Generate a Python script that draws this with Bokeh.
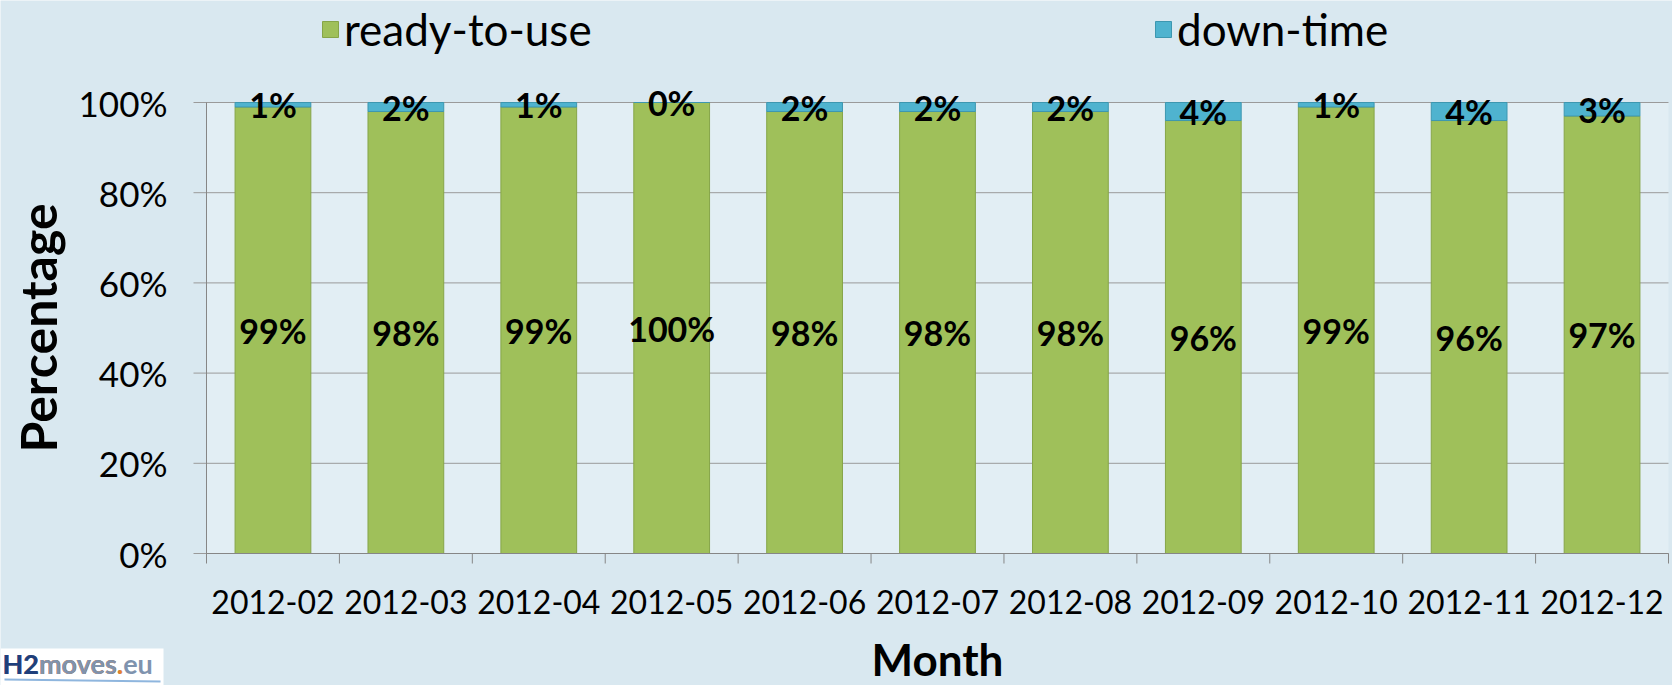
import math
from bokeh.plotting import figure
from bokeh.models import (ColumnDataSource, Range1d, Legend, LegendItem, BoxAnnotation)
from bokeh.core.properties import value
from bokeh.embed import file_html
from bokeh.resources import INLINE

# ---------------- data ----------------
months = ["2012-02", "2012-03", "2012-04", "2012-05", "2012-06", "2012-07",
          "2012-08", "2012-09", "2012-10", "2012-11", "2012-12"]
ready = [99, 98, 99, 100, 98, 98, 98, 96, 99, 96, 97]
down = [1, 2, 1, 0, 2, 2, 2, 4, 1, 4, 3]
y_ticks = [0, 20, 40, 60, 80, 100]
y_tick_labels = ["0%", "20%", "40%", "60%", "80%", "100%"]
series_names = ["ready-to-use", "down-time"]
x_title = "Month"
y_title = "Percentage"
logo_text = "H2moves.eu"

# ---------------- style / layout ----------------
GREEN = "#9fc05a"
GREEN_EDGE = "#86a548"
BLUE = "#4fb3cf"
BLUE_EDGE = "#3d97b0"
BG = "#d9e8f0"
PLOT_BG = "#e2eef4"
AXIS = "#868686"
GRID = "#9a9a9a"
FONT = "Lato"

W, H = 1672, 685
FL, FR, FT, FB = 206, 1668, 102, 553      # plot-area edges in pixels
n = len(months)
sx = (FR - FL) / n                        # pixels per category
sy = (FB - FT) / 100.0                    # pixels per percent

def dx(px):
    return px / sx

def dy(px):
    return px / sy

x_range = Range1d(-FL / sx, n + (W - FR) / sx)
y_range = Range1d(-(H - FB) / sy, 100 + FT / sy)

p = figure(width=W, height=H, output_backend="svg", toolbar_location=None,
           x_range=x_range, y_range=y_range,
           x_axis_location=None, y_axis_location=None,
           min_border_left=0, min_border_right=0, min_border_top=0, min_border_bottom=0)
p.border_fill_color = BG
p.background_fill_color = BG
p.outline_line_color = None
p.grid.visible = False

# plot area background
p.quad(left=[0], right=[n], bottom=[0], top=[100], fill_color=PLOT_BG, line_color=None)

# horizontal gridlines with outward ticks
TICK_Y = 13
p.segment(x0=[-dx(TICK_Y)] * len(y_ticks), x1=[n] * len(y_ticks), y0=y_ticks, y1=y_ticks,
          line_color=GRID, line_width=1)

# bars
xs = [i + 0.5 for i in range(n)]
total = [r + d for r, d in zip(ready, down)]
src = ColumnDataSource(dict(
    x=xs, ready=ready, down=down, total=total,
    ready_mid=[r / 2 for r in ready],
    down_mid=[r + d / 2 for r, d in zip(ready, down)],
    ready_lbl=[f"{r}%" for r in ready],
    down_lbl=[f"{d}%" for d in down],
))
BAR_W = 0.57
r_ready = p.vbar(x="x", bottom=0, top="ready", width=BAR_W, source=src,
                 fill_color=GREEN, line_color=GREEN_EDGE, line_width=1)
r_down = p.vbar(x="x", bottom="ready", top="total", width=BAR_W, source=src,
                fill_color=BLUE, line_color=BLUE_EDGE, line_width=1)

# axes lines and category boundary ticks
TICK_X = 10
bounds = list(range(n + 1))
p.segment(x0=[0], x1=[0], y0=[0], y1=[100], line_color=AXIS, line_width=1)
p.segment(x0=[0], x1=[n], y0=[0], y1=[0], line_color=AXIS, line_width=1)
p.segment(x0=bounds, x1=bounds, y0=[0] * len(bounds), y1=[-dy(TICK_X)] * len(bounds),
          line_color=AXIS, line_width=1)

# data labels
txt = dict(text_font=value(FONT), text_font_style="bold", text_font_size="34px",
           text_align="center", text_baseline="middle", text_color="black", source=src)
p.text(x="x", y="ready_mid", text="ready_lbl", **txt)
p.text(x="x", y="down_mid", text="down_lbl", **txt)

# tick labels
p.text(x=[0] * len(y_ticks), y=y_ticks, text=y_tick_labels, x_offset=-(TICK_Y + 26),
       text_font=value(FONT), text_font_size="35px", text_color="black",
       text_align="right", text_baseline="middle")
p.text(x=xs, y=[0] * n, text=months, y_offset=48,
       text_font=value(FONT), text_font_size="32px", text_color="black",
       text_align="center", text_baseline="middle")

# axis titles
p.text(x=[0], y=[50], text=[y_title], x_offset=-169, angle=math.pi / 2,
       text_font=value(FONT), text_font_style="bold", text_font_size="50px",
       text_color="black", text_align="center", text_baseline="middle")
p.text(x=[n / 2], y=[0], text=[x_title], y_offset=105,
       text_font=value(FONT), text_font_style="bold", text_font_size="44px",
       text_color="black", text_align="center", text_baseline="middle")

# legend (top strip)
legend = Legend(items=[LegendItem(label=series_names[0], renderers=[r_ready]),
                       LegendItem(label=series_names[1], renderers=[r_down])],
                location=(320, H - 55), orientation="horizontal",
                padding=0, margin=0, spacing=509, label_width=300,
                border_line_color=None, background_fill_alpha=0,
                label_text_font=FONT, label_text_font_size="44px", label_text_color="black",
                glyph_width=20, glyph_height=20, label_standoff=4)
p.add_layout(legend, "center")

# logo (bottom-left)
p.add_layout(BoxAnnotation(left=x_range.start, right=x_range.start + dx(163),
                           bottom=y_range.start, top=y_range.start + dy(37),
                           fill_color="white", fill_alpha=1, line_color=None,
                           level="underlay"))
p.line(x=[x_range.start + dx(4), x_range.start + dx(160)],
       y=[y_range.start + dy(6), y_range.start + dy(4)], line_color="#8fb6de", line_width=2)
logo = dict(x=[x_range.start], y=[y_range.start], x_offset=2, y_offset=-22,
            text_font=value(FONT), text_font_style="bold", text_font_size="27px",
            text_align="left", text_baseline="middle")
p.text(text=[logo_text], text_color="#7f93ae", **logo)
p.text(text=[logo_text[:8]], text_color="#e8822a", **logo)
p.text(text=[logo_text[:7]], text_color="#7f93ae", **logo)
p.text(text=[logo_text[:2]], text_color="#1e3f7c", **logo)

open("out.html", "w").write(file_html(p, INLINE))
